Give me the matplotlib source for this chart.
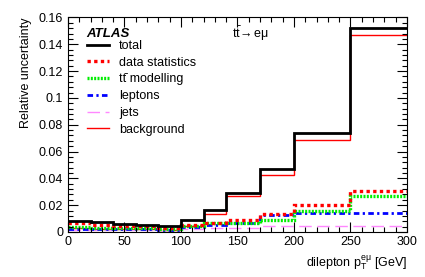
import matplotlib
matplotlib.use("Agg")
import matplotlib.pyplot as plt
from matplotlib.ticker import MultipleLocator, FuncFormatter
from matplotlib.lines import Line2D

plt.rcParams["font.family"] = ["Liberation Sans", "DejaVu Sans"]
plt.rcParams["mathtext.fontset"] = "custom"
plt.rcParams["mathtext.rm"] = "Liberation Sans"
plt.rcParams["mathtext.it"] = "Liberation Sans:italic"

# bin edges of dilepton pT [GeV]
edges = [0, 20, 40, 60, 80, 100, 120, 140, 170, 200, 250, 300]

# relative uncertainties per bin
total = [0.0085, 0.0072, 0.0062, 0.0055, 0.0043, 0.0087, 0.0165, 0.0288, 0.0468, 0.0736, 0.1525]
data_stat = [0.0068, 0.0055, 0.0048, 0.0043, 0.0033, 0.0055, 0.0068, 0.0088, 0.0137, 0.0200, 0.0306]
modelling = [0.0035, 0.0032, 0.0030, 0.0028, 0.0025, 0.0042, 0.0065, 0.0068, 0.0093, 0.0157, 0.0270]
leptons = [0.0025, 0.0022, 0.0020, 0.0020, 0.0018, 0.0035, 0.0055, 0.0070, 0.0130, 0.0142, 0.0142]
jets = [0.0015, 0.0015, 0.0015, 0.0015, 0.0015, 0.0020, 0.0032, 0.0032, 0.0045, 0.0045, 0.0045]
background = [0.0030, 0.0025, 0.0020, 0.0020, 0.0015, 0.0045, 0.0137, 0.0268, 0.0423, 0.0685, 0.1470]

fig = plt.figure(figsize=(4.25, 2.77), dpi=100)
ax = fig.add_axes([0.16, 0.1625, 0.7976, 0.7745])

styles = [
    ("total", total, dict(color="black", lw=2.0, ls="-")),
    ("data statistics", data_stat, dict(color="#ff0000", lw=2.4, ls=(0, (1, 1)))),
    ("tt\u0304 modelling", modelling, dict(color="#00ee00", lw=2.4, ls=(0, (0.6, 0.4)))),
    ("leptons", leptons, dict(color="#0000ff", lw=2.0, ls=(0, (2, 1.2, 0.8, 1.2)))),
    ("jets", jets, dict(color="#ff88ff", lw=1.0, ls=(0, (9, 4)))),
    ("background", background, dict(color="#ff0000", lw=1.0, ls="-")),
]

handles = []
for label, vals, st in reversed(styles):
    ax.stairs(vals, edges, baseline=None, **st)
for label, vals, st in styles:
    handles.append(Line2D([], [], label=label, **st))

ax.set_xlim(0, 300)
ax.set_ylim(0, 0.16)
ax.xaxis.set_major_locator(MultipleLocator(50))
ax.xaxis.set_minor_locator(MultipleLocator(10))
ax.yaxis.set_major_locator(MultipleLocator(0.02))
ax.yaxis.set_minor_locator(MultipleLocator(0.004))
ax.yaxis.set_major_formatter(FuncFormatter(lambda v, p: "%g" % round(v, 3)))
ax.tick_params(which="both", direction="in", top=True, right=True, labelsize=9)
ax.tick_params(which="major", length=7, width=0.8)
ax.tick_params(which="minor", length=3.5, width=0.8)
ax.tick_params(axis="x", pad=3)

ax.set_ylabel("Relative uncertainty", fontsize=9, loc="top", labelpad=5)
ax.set_xlabel(r"dilepton $\mathrm{p}_{\mathrm{T}}^{\mathrm{e\mu}}$ [GeV]", fontsize=9, loc="right", labelpad=4)

ax.text(0.055, 0.925, "ATLAS", transform=ax.transAxes, fontsize=9.5,
        fontweight="bold", fontstyle="italic", va="center")
ax.text(0.485, 0.925, r"$\mathrm{t\bar{t}}\!\rightarrow \mathrm{e\mu}$", transform=ax.transAxes,
        fontsize=9, va="center")

ax.legend(handles=handles, loc="upper left", bbox_to_anchor=(0.056, 0.895),
          frameon=False, fontsize=9, handlelength=1.8, handletextpad=0.75,
          labelspacing=0.38, borderaxespad=0, borderpad=0)

fig.savefig("out.png", dpi=100)
